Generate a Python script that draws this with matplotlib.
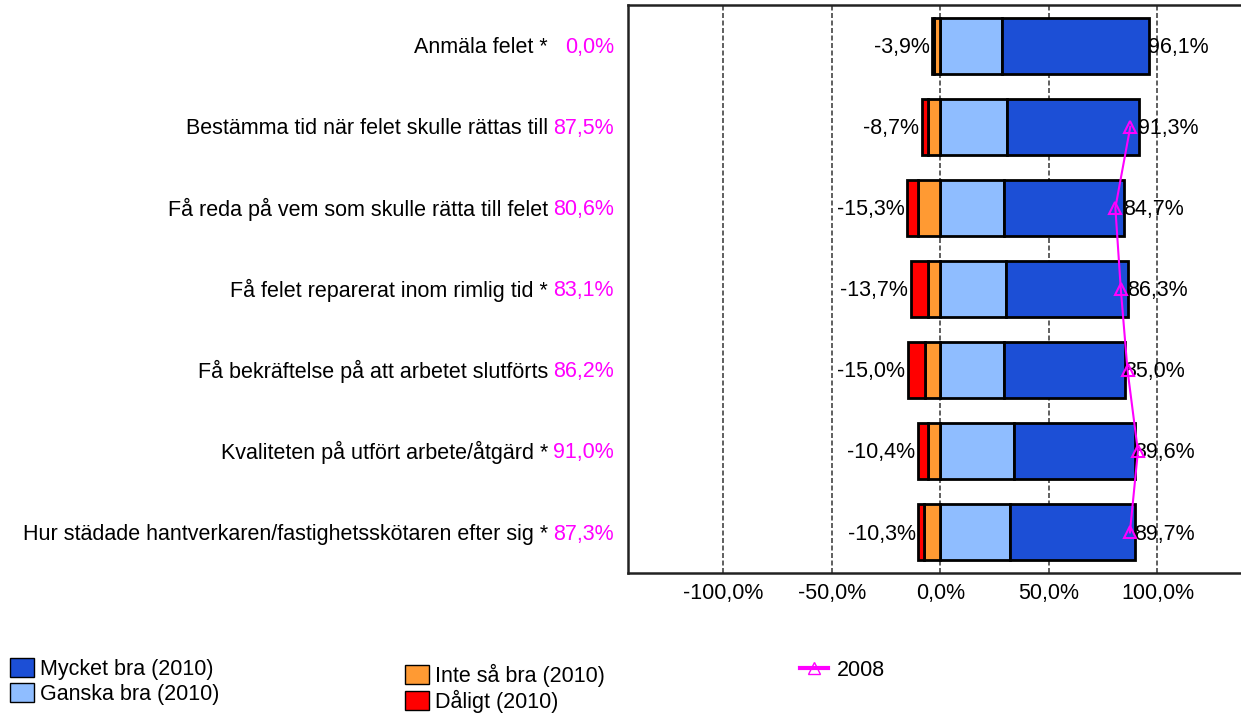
import matplotlib
matplotlib.use("Agg")
import matplotlib.pyplot as plt
import matplotlib.transforms as mtransforms
from matplotlib.patches import Patch
from matplotlib.lines import Line2D
import numpy as np

plt.rcParams['font.family'] = ['Liberation Sans', 'DejaVu Sans']

fragor = [
    "Anmäla felet *",
    "Bestämma tid när felet skulle rättas till",
    "Få reda på vem som skulle rätta till felet",
    "Få felet reparerat inom rimlig tid *",
    "Få bekräftelse på att arbetet slutförts",
    "Kvaliteten på utfört arbete/åtgärd *",
    "Hur städade hantverkaren/fastighetsskötaren efter sig *",
]
mycket_bra = [67.7, 60.5, 55.2, 56.1, 55.9, 55.9, 57.5]
ganska_bra = [28.4, 30.8, 29.5, 30.2, 29.1, 33.7, 32.2]
inte_sa_bra = [3.1, 5.8, 10.3, 5.9, 7.0, 5.9, 7.7]
daligt = [0.8, 2.9, 5.0, 7.8, 8.0, 4.5, 2.6]
positiv = [96.1, 91.3, 84.7, 86.3, 85.0, 89.6, 89.7]
negativ = [3.9, 8.7, 15.3, 13.7, 15.0, 10.4, 10.3]
ar2008 = [0.0, 87.5, 80.6, 83.1, 86.2, 91.0, 87.3]

c_mycket = "#1c4fd6"
c_ganska = "#8fbdff"
c_inte = "#ff9a33"
c_dalig = "#ff0000"
c_2008 = "#ff00ff"
fs = 15.5


def fmt(v):
    return f"{v:.1f}%".replace(".", ",")


fig = plt.figure(figsize=(12.41, 7.13), dpi=100)
ax = fig.add_axes([628 / 1241, 1 - 573 / 713, 1 - 628 / 1241, 568 / 713])

y = np.arange(len(fragor))
h = 0.69
kw = dict(height=h, edgecolor="black", linewidth=2)

ax.barh(y, ganska_bra, left=0, color=c_ganska, **kw)
ax.barh(y, mycket_bra, left=ganska_bra, color=c_mycket, **kw)
ax.barh(y, [-v for v in inte_sa_bra], left=0, color=c_inte, **kw)
ax.barh(y, [-v for v in daligt], left=[-v for v in inte_sa_bra], color=c_dalig, **kw)

for i in range(len(fragor)):
    ax.text(positiv[i] - 0.3, y[i] + 0.02, fmt(positiv[i]), ha="left", va="center", fontsize=fs)
    ax.text(-negativ[i] - 1.2, y[i] + 0.02, fmt(-negativ[i]), ha="right", va="center", fontsize=fs)

# 2008-linje (0,0% visas inte)
v2008 = np.array([v if v > 0 else np.nan for v in ar2008])
ax.plot(v2008, y, color=c_2008, linewidth=1.5, marker="^", markersize=9,
        markerfacecolor="none", markeredgecolor=c_2008, markeredgewidth=1.5, zorder=5)

ax.set_xlim(-144, 138.5)
ax.set_ylim(len(fragor) - 0.5, -0.5)
ax.set_xticks([-100, -50, 0, 50, 100])
ax.set_xticklabels([fmt(v) for v in [-100, -50, 0, 50, 100]], fontsize=fs)
ax.set_yticks([])
ax.tick_params(axis="x", length=0, pad=7)
for x in [-100, -50, 0, 50, 100]:
    ax.axvline(x, color="#444444", linestyle=(0, (3, 1.5)), linewidth=1.2, zorder=0)
ax.spines["right"].set_visible(False)
for s in ["left", "top", "bottom"]:
    ax.spines[s].set_linewidth(1.8)
    ax.spines[s].set_color("#222222")

trans = mtransforms.blended_transform_factory(fig.transFigure, ax.transData)
for i, f in enumerate(fragor):
    ax.text(548 / 1241, y[i] + 0.02, f, transform=trans, ha="right", va="center", fontsize=fs)
    ax.text(614 / 1241, y[i] + 0.02, fmt(ar2008[i]), transform=trans, ha="right", va="center",
            fontsize=fs, color=c_2008)

lkw = dict(frameon=False, fontsize=fs, handlelength=1.1, handleheight=1.0,
           handletextpad=0.3, labelspacing=0.12, borderaxespad=0, borderpad=0)
leg1 = fig.legend(handles=[Patch(facecolor=c_mycket, edgecolor="black", label="Mycket bra (2010)"),
                           Patch(facecolor=c_ganska, edgecolor="black", label="Ganska bra (2010)")],
                  loc="upper left", bbox_to_anchor=(10 / 1241, 1 - 658 / 713), **lkw)
leg2 = fig.legend(handles=[Patch(facecolor=c_inte, edgecolor="black", label="Inte så bra (2010)"),
                           Patch(facecolor=c_dalig, edgecolor="black", label="Dåligt (2010)")],
                  loc="upper left", bbox_to_anchor=(405 / 1241, 1 - 664 / 713), **lkw)
leg3 = fig.legend(handles=[Line2D([0], [0], color=c_2008, linewidth=3, marker="^", markersize=8,
                                  markerfacecolor="none", markeredgecolor=c_2008, label="2008")],
                  loc="upper left", bbox_to_anchor=(800 / 1241, 1 - 660 / 713),
                  frameon=False, fontsize=fs, handlelength=1.3, handletextpad=0.4,
                  borderaxespad=0, borderpad=0)

fig.savefig("out.png", dpi=100)
